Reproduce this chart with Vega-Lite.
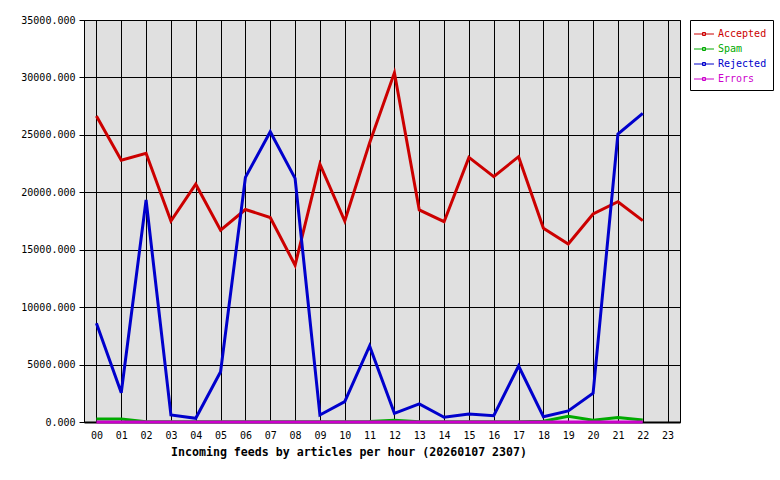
{
  "$schema": "https://vega.github.io/schema/vega-lite/v6.json",
  "width": 596,
  "height": 402,
  "autosize": {"type": "none"},
  "padding": {"left": 84, "top": 20, "right": 100, "bottom": 58},
  "background": "white",
  "config": {
    "view": {"stroke": "black", "strokeWidth": 1, "fill": "#e0e0e0"},
    "font": "DejaVu Sans Mono"
  },
  "data": {
    "values": [
      {"hour": "00", "series": "Accepted", "value": 26640},
      {"hour": "01", "series": "Accepted", "value": 22800},
      {"hour": "02", "series": "Accepted", "value": 23400},
      {"hour": "03", "series": "Accepted", "value": 17500},
      {"hour": "04", "series": "Accepted", "value": 20700},
      {"hour": "05", "series": "Accepted", "value": 16700},
      {"hour": "06", "series": "Accepted", "value": 18500},
      {"hour": "07", "series": "Accepted", "value": 17800},
      {"hour": "08", "series": "Accepted", "value": 13650},
      {"hour": "09", "series": "Accepted", "value": 22450},
      {"hour": "10", "series": "Accepted", "value": 17500},
      {"hour": "11", "series": "Accepted", "value": 24300},
      {"hour": "12", "series": "Accepted", "value": 30400},
      {"hour": "13", "series": "Accepted", "value": 18460},
      {"hour": "14", "series": "Accepted", "value": 17440},
      {"hour": "15", "series": "Accepted", "value": 23040},
      {"hour": "16", "series": "Accepted", "value": 21360},
      {"hour": "17", "series": "Accepted", "value": 23100},
      {"hour": "18", "series": "Accepted", "value": 16860},
      {"hour": "19", "series": "Accepted", "value": 15500},
      {"hour": "20", "series": "Accepted", "value": 18110},
      {"hour": "21", "series": "Accepted", "value": 19180},
      {"hour": "22", "series": "Accepted", "value": 17530},
      {"hour": "00", "series": "Spam", "value": 260},
      {"hour": "01", "series": "Spam", "value": 260},
      {"hour": "02", "series": "Spam", "value": 30},
      {"hour": "03", "series": "Spam", "value": 20},
      {"hour": "04", "series": "Spam", "value": 20},
      {"hour": "05", "series": "Spam", "value": 20},
      {"hour": "06", "series": "Spam", "value": 20},
      {"hour": "07", "series": "Spam", "value": 20},
      {"hour": "08", "series": "Spam", "value": 20},
      {"hour": "09", "series": "Spam", "value": 20},
      {"hour": "10", "series": "Spam", "value": 20},
      {"hour": "11", "series": "Spam", "value": 40},
      {"hour": "12", "series": "Spam", "value": 150},
      {"hour": "13", "series": "Spam", "value": 30},
      {"hour": "14", "series": "Spam", "value": 20},
      {"hour": "15", "series": "Spam", "value": 20},
      {"hour": "16", "series": "Spam", "value": 20},
      {"hour": "17", "series": "Spam", "value": 20},
      {"hour": "18", "series": "Spam", "value": 60},
      {"hour": "19", "series": "Spam", "value": 500},
      {"hour": "20", "series": "Spam", "value": 150},
      {"hour": "21", "series": "Spam", "value": 400},
      {"hour": "22", "series": "Spam", "value": 170},
      {"hour": "00", "series": "Rejected", "value": 8590},
      {"hour": "01", "series": "Rejected", "value": 2550},
      {"hour": "02", "series": "Rejected", "value": 19330},
      {"hour": "03", "series": "Rejected", "value": 610},
      {"hour": "04", "series": "Rejected", "value": 320},
      {"hour": "05", "series": "Rejected", "value": 4380},
      {"hour": "06", "series": "Rejected", "value": 21300},
      {"hour": "07", "series": "Rejected", "value": 25270},
      {"hour": "08", "series": "Rejected", "value": 21210},
      {"hour": "09", "series": "Rejected", "value": 610},
      {"hour": "10", "series": "Rejected", "value": 1770},
      {"hour": "11", "series": "Rejected", "value": 6620},
      {"hour": "12", "series": "Rejected", "value": 750},
      {"hour": "13", "series": "Rejected", "value": 1570},
      {"hour": "14", "series": "Rejected", "value": 410},
      {"hour": "15", "series": "Rejected", "value": 700},
      {"hour": "16", "series": "Rejected", "value": 550},
      {"hour": "17", "series": "Rejected", "value": 4875},
      {"hour": "18", "series": "Rejected", "value": 460},
      {"hour": "19", "series": "Rejected", "value": 960},
      {"hour": "20", "series": "Rejected", "value": 2500},
      {"hour": "21", "series": "Rejected", "value": 25070},
      {"hour": "22", "series": "Rejected", "value": 26870},
      {"hour": "00", "series": "Errors", "value": 0},
      {"hour": "01", "series": "Errors", "value": 0},
      {"hour": "02", "series": "Errors", "value": 0},
      {"hour": "03", "series": "Errors", "value": 0},
      {"hour": "04", "series": "Errors", "value": 0},
      {"hour": "05", "series": "Errors", "value": 0},
      {"hour": "06", "series": "Errors", "value": 0},
      {"hour": "07", "series": "Errors", "value": 0},
      {"hour": "08", "series": "Errors", "value": 0},
      {"hour": "09", "series": "Errors", "value": 0},
      {"hour": "10", "series": "Errors", "value": 0},
      {"hour": "11", "series": "Errors", "value": 0},
      {"hour": "12", "series": "Errors", "value": 0},
      {"hour": "13", "series": "Errors", "value": 0},
      {"hour": "14", "series": "Errors", "value": 0},
      {"hour": "15", "series": "Errors", "value": 0},
      {"hour": "16", "series": "Errors", "value": 0},
      {"hour": "17", "series": "Errors", "value": 0},
      {"hour": "18", "series": "Errors", "value": 0},
      {"hour": "19", "series": "Errors", "value": 0},
      {"hour": "20", "series": "Errors", "value": 0},
      {"hour": "21", "series": "Errors", "value": 0},
      {"hour": "22", "series": "Errors", "value": 0}
    ]
  },
  "mark": {"type": "line", "strokeWidth": 3, "strokeJoin": "miter"},
  "encoding": {
    "x": {
      "field": "hour",
      "type": "ordinal",
      "scale": {
        "type": "point",
        "padding": 0.5,
        "domain": ["00","01","02","03","04","05","06","07","08","09","10","11","12","13","14","15","16","17","18","19","20","21","22","23"]
      },
      "axis": {
        "title": "Incoming feeds by articles per hour (20260107 2307)",
        "titleFont": "DejaVu Sans Mono",
        "titleFontWeight": "bold",
        "titleFontSize": 11.6,
        "titleColor": "black",
        "titleX": 264.5,
        "titleY": 30,
        "titleAlign": "center",
        "titleBaseline": "middle",
        "labelAngle": 0,
        "labelFont": "DejaVu Sans Mono",
        "labelFontSize": 10,
        "labelColor": "black",
        "labelPadding": 8,
        "tickSize": 0,
        "domainColor": "black",
        "domainWidth": 2,
        "grid": true,
        "gridColor": "black",
        "gridWidth": 1,
        "gridOpacity": 1
      }
    },
    "y": {
      "field": "value",
      "type": "quantitative",
      "scale": {"domain": [0, 35000], "nice": false},
      "axis": {
        "title": null,
        "values": [0, 5000, 10000, 15000, 20000, 25000, 30000, 35000],
        "format": ".3f",
        "labelFont": "DejaVu Sans Mono",
        "labelFontSize": 10,
        "labelColor": "black",
        "labelPadding": 4,
        "tickSize": 5,
        "tickColor": "black",
        "domainColor": "black",
        "grid": true,
        "gridColor": "black",
        "gridWidth": 1,
        "gridOpacity": 1
      }
    },
    "color": {
      "field": "series",
      "type": "nominal",
      "sort": ["Accepted", "Spam", "Rejected", "Errors"],
      "scale": {
        "domain": ["Accepted", "Spam", "Rejected", "Errors"],
        "range": ["#cc0000", "#00aa00", "#0000cc", "#cc00cc"]
      },
      "legend": {
        "title": null,
        "orient": "none",
        "legendX": 606,
        "legendY": 0,
        "strokeColor": "black",
        "fillColor": "white",
        "padding": 6,
        "rowPadding": 2,
        "symbolType": "M-1.33,0L1.33,0M-0.2,-0.2L0.2,-0.2L0.2,0.2L-0.2,0.2Z",
        "symbolSize": 225,
        "symbolStrokeWidth": 1,
        "labelOffset": 6,
        "labelFont": "DejaVu Sans Mono",
        "labelFontSize": 10,
        "encode": {
          "labels": {"update": {"fill": {"scale": "color", "field": "value"}}}
        }
      }
    }
  }
}
